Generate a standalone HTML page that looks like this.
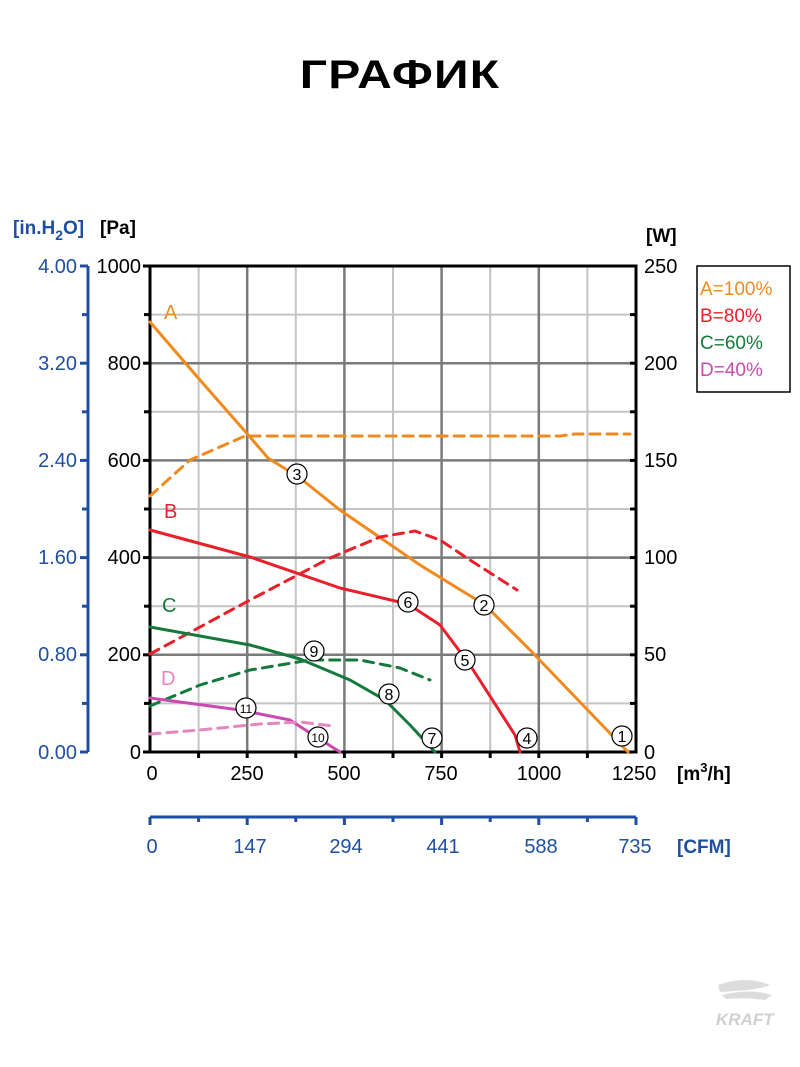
<!DOCTYPE html>
<html><head><meta charset="utf-8"><style>
html,body{margin:0;padding:0;background:#fff;width:800px;height:1067px;overflow:hidden}
svg{display:block}
text{font-family:"Liberation Sans",sans-serif}
</style></head><body>
<svg width="800" height="1067" viewBox="0 0 800 1067" xmlns="http://www.w3.org/2000/svg">
<text x="400" y="88" text-anchor="middle" font-size="40" font-weight="bold" letter-spacing="1" transform="translate(400 0) scale(1.2 1) translate(-400 0)">ГРАФИК</text>
<!-- grid -->
<g stroke="#c4c4c4" stroke-width="2">
<line x1="198.6" y1="266" x2="198.6" y2="752"/><line x1="295.8" y1="266" x2="295.8" y2="752"/><line x1="393" y1="266" x2="393" y2="752"/><line x1="490.2" y1="266" x2="490.2" y2="752"/><line x1="587.4" y1="266" x2="587.4" y2="752"/>
<line x1="150" y1="314.6" x2="636" y2="314.6"/><line x1="150" y1="411.8" x2="636" y2="411.8"/><line x1="150" y1="509" x2="636" y2="509"/><line x1="150" y1="606.2" x2="636" y2="606.2"/><line x1="150" y1="703.4" x2="636" y2="703.4"/>
</g>
<g stroke="#7a7a7a" stroke-width="2.5">
<line x1="247.2" y1="266" x2="247.2" y2="752"/><line x1="344.4" y1="266" x2="344.4" y2="752"/><line x1="441.6" y1="266" x2="441.6" y2="752"/><line x1="538.8" y1="266" x2="538.8" y2="752"/>
<line x1="150" y1="363.2" x2="636" y2="363.2"/><line x1="150" y1="460.4" x2="636" y2="460.4"/><line x1="150" y1="557.6" x2="636" y2="557.6"/><line x1="150" y1="654.8" x2="636" y2="654.8"/>
</g>
<!-- frame -->
<g stroke="#000" stroke-width="3" fill="none">
<line x1="150" y1="266" x2="636" y2="266"/><line x1="150" y1="264.5" x2="150" y2="753.5"/><line x1="636" y1="264.5" x2="636" y2="753.5"/><line x1="148.5" y1="752" x2="637.5" y2="752"/>
</g>
<g stroke="#000" stroke-width="3">
<line x1="143" y1="266" x2="150" y2="266"/><line x1="144" y1="314.6" x2="150" y2="314.6"/><line x1="143" y1="363.2" x2="150" y2="363.2"/><line x1="144" y1="411.8" x2="150" y2="411.8"/><line x1="143" y1="460.4" x2="150" y2="460.4"/><line x1="144" y1="509" x2="150" y2="509"/><line x1="143" y1="557.6" x2="150" y2="557.6"/><line x1="144" y1="606.2" x2="150" y2="606.2"/><line x1="143" y1="654.8" x2="150" y2="654.8"/><line x1="144" y1="703.4" x2="150" y2="703.4"/><line x1="143" y1="752" x2="150" y2="752"/>
<line x1="630" y1="314.6" x2="636" y2="314.6"/><line x1="630" y1="363.2" x2="636" y2="363.2"/><line x1="630" y1="411.8" x2="636" y2="411.8"/><line x1="630" y1="460.4" x2="636" y2="460.4"/><line x1="630" y1="509" x2="636" y2="509"/><line x1="630" y1="557.6" x2="636" y2="557.6"/><line x1="630" y1="606.2" x2="636" y2="606.2"/><line x1="630" y1="654.8" x2="636" y2="654.8"/><line x1="630" y1="703.4" x2="636" y2="703.4"/>
<line x1="198.6" y1="752" x2="198.6" y2="758"/><line x1="247.2" y1="752" x2="247.2" y2="758"/><line x1="295.8" y1="752" x2="295.8" y2="758"/><line x1="344.4" y1="752" x2="344.4" y2="758"/><line x1="393" y1="752" x2="393" y2="758"/><line x1="441.6" y1="752" x2="441.6" y2="758"/><line x1="490.2" y1="752" x2="490.2" y2="758"/><line x1="538.8" y1="752" x2="538.8" y2="758"/><line x1="587.4" y1="752" x2="587.4" y2="758"/>
</g>
<!-- left labels -->
<g font-size="20" text-anchor="end">
<text x="141" y="273">1000</text><text x="141" y="370">800</text><text x="141" y="467">600</text><text x="141" y="564">400</text><text x="141" y="661">200</text><text x="141" y="759">0</text>
</g>
<text x="100" y="234" font-size="19" font-weight="bold">[Pa]</text>
<!-- blue left axis -->
<g stroke="#1f4fa3" stroke-width="3">
<line x1="88" y1="266" x2="88" y2="752"/>
<line x1="80" y1="266" x2="88" y2="266"/><line x1="82" y1="314.6" x2="88" y2="314.6"/><line x1="80" y1="363.2" x2="88" y2="363.2"/><line x1="82" y1="411.8" x2="88" y2="411.8"/><line x1="80" y1="460.4" x2="88" y2="460.4"/><line x1="82" y1="509" x2="88" y2="509"/><line x1="80" y1="557.6" x2="88" y2="557.6"/><line x1="82" y1="606.2" x2="88" y2="606.2"/><line x1="80" y1="654.8" x2="88" y2="654.8"/><line x1="82" y1="703.4" x2="88" y2="703.4"/><line x1="80" y1="752" x2="88" y2="752"/>
</g>
<g font-size="20" fill="#1f4fa3" text-anchor="end">
<text x="77" y="273">4.00</text><text x="77" y="370">3.20</text><text x="77" y="467">2.40</text><text x="77" y="564">1.60</text><text x="77" y="661">0.80</text><text x="77" y="759">0.00</text>
</g>
<text x="13" y="234" font-size="19" font-weight="bold" fill="#1f4fa3">[in.H<tspan font-size="14" dy="6">2</tspan><tspan dy="-6">O]</tspan></text>
<!-- right labels -->
<g font-size="20">
<text x="644" y="273">250</text><text x="644" y="370">200</text><text x="644" y="467">150</text><text x="644" y="564">100</text><text x="644" y="661">50</text><text x="644" y="759">0</text>
</g>
<text x="646" y="242" font-size="19" font-weight="bold">[W]</text>
<!-- bottom labels -->
<g font-size="20" text-anchor="middle">
<text x="152" y="780">0</text><text x="247" y="780">250</text><text x="344" y="780">500</text><text x="441" y="780">750</text><text x="539" y="780">1000</text><text x="634" y="780">1250</text>
</g>
<text x="677" y="780" font-size="19" font-weight="bold">[m<tspan font-size="13" dy="-8">3</tspan><tspan dy="8">/h]</tspan></text>
<!-- CFM axis -->
<g stroke="#1f4fa3" stroke-width="3">
<line x1="150" y1="817" x2="636" y2="817"/>
<line x1="150" y1="817" x2="150" y2="825"/><line x1="198.6" y1="817" x2="198.6" y2="822"/><line x1="247.2" y1="817" x2="247.2" y2="825"/><line x1="295.8" y1="817" x2="295.8" y2="822"/><line x1="344.4" y1="817" x2="344.4" y2="825"/><line x1="393" y1="817" x2="393" y2="822"/><line x1="441.6" y1="817" x2="441.6" y2="825"/><line x1="490.2" y1="817" x2="490.2" y2="822"/><line x1="538.8" y1="817" x2="538.8" y2="825"/><line x1="587.4" y1="817" x2="587.4" y2="822"/><line x1="636" y1="817" x2="636" y2="825"/>
</g>
<g font-size="20" fill="#1f4fa3" text-anchor="middle">
<text x="152" y="853">0</text><text x="250" y="853">147</text><text x="346" y="853">294</text><text x="443" y="853">441</text><text x="541" y="853">588</text><text x="635" y="853">735</text>
</g>
<text x="677" y="853" font-size="19" font-weight="bold" fill="#1f4fa3">[CFM]</text>
<!-- curves -->
<g fill="none" stroke-width="3" stroke-linejoin="round" stroke-linecap="round">
<polyline stroke="#f08a1c" points="150,322 200,380 250,437 268,458 300,478 340,510 420,565 485,605 530,650 628,752"/>
<polyline stroke="#f08a1c" stroke-dasharray="10,7" points="150,496 190,460 245,436 560,436 575,434 630,434"/>
<polyline stroke="#e8202a" points="150,530 250,557 340,588 408,604 440,625 470,665 515,735 520,752"/>
<polyline stroke="#e8202a" stroke-dasharray="10,7" points="150,654 250,600 330,558 380,537 415,531 440,540 470,560 517,590"/>
<polyline stroke="#137a3b" points="150,627 250,645 300,659 350,680 385,700 410,725 435,752"/>
<polyline stroke="#137a3b" stroke-dasharray="10,7" points="150,706 200,685 250,670 310,660 360,660 400,668 430,680"/>
<polyline stroke="#c94ab0" points="150,698 240,710 290,720 310,733 340,752"/>
<polyline stroke="#e586c0" stroke-dasharray="10,7" points="150,734 200,730 260,724 300,722 333,726"/>
</g>
<!-- curve letters -->
<text x="164" y="319" font-size="20" fill="#f08a1c">A</text>
<text x="164" y="518" font-size="20" fill="#e8202a">B</text>
<text x="162" y="612" font-size="20" fill="#137a3b">C</text>
<text x="161" y="685" font-size="20" fill="#e586c0">D</text>
<!-- markers -->
<g font-size="16" text-anchor="middle">
<g fill="#fff" stroke="#000" stroke-width="1.2">
<circle cx="622" cy="736" r="10"/><circle cx="484" cy="605" r="10"/><circle cx="297" cy="474" r="10"/><circle cx="527" cy="738" r="10"/><circle cx="465" cy="660" r="10"/><circle cx="408" cy="602" r="10"/><circle cx="432" cy="738" r="10"/><circle cx="389" cy="694" r="10"/><circle cx="314" cy="651" r="10"/><circle cx="318" cy="737" r="10"/><circle cx="246" cy="708" r="10"/>
</g>
<text x="622" y="742">1</text><text x="484" y="611">2</text><text x="297" y="480">3</text><text x="527" y="744">4</text><text x="465" y="666">5</text><text x="408" y="608">6</text><text x="432" y="744">7</text><text x="389" y="700">8</text><text x="314" y="657">9</text><text x="318" y="742" font-size="12">10</text><text x="246" y="713" font-size="12">11</text>
</g>
<!-- legend -->
<rect x="697" y="266" width="93" height="126" fill="#fff" stroke="#000" stroke-width="1.5"/>
<g font-size="19">
<text x="700" y="295" fill="#f08a1c">A=100%</text>
<text x="700" y="322" fill="#e8202a">B=80%</text>
<text x="700" y="349" fill="#137a3b">C=60%</text>
<text x="700" y="376" fill="#c94ab0">D=40%</text>
</g>
<!-- logo -->
<path d="M718 985 Q745 975 770 985 Q760 990 720 992 Z M722 995 Q750 988 772 995 L765 1000 Q745 997 726 999 Z" fill="#dcdcdc"/>
<text x="716" y="1025" font-size="17" font-weight="bold" font-style="italic" fill="#d0d0d0">KRAFT</text>
</svg>
</body></html>
